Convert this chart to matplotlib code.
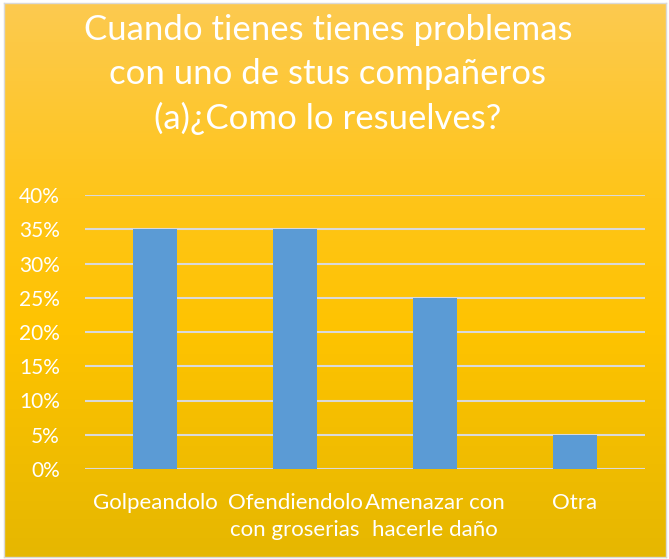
import numpy as np
import matplotlib.pyplot as plt
from matplotlib.colors import LinearSegmentedColormap

categories = ['Golpeandolo', 'Ofendiendolo\ncon groserias', 'Amenazar con\nhacerle daño', 'Otra']
values = [0.35, 0.35, 0.25, 0.05]
yticks = [0, 0.05, 0.10, 0.15, 0.20, 0.25, 0.30, 0.35, 0.40]
ylabels = ['0%', '5%', '10%', '15%', '20%', '25%', '30%', '35%', '40%']
title = 'Cuando tienes tienes problemas\ncon uno de stus compañeros\n(a)¿Como lo resuelves?'

plt.rcParams['font.family'] = ['Lato', 'DejaVu Sans']

fig = plt.figure(figsize=(6.69, 5.59), dpi=100)
fig.patch.set_facecolor('white')

# gradient background
bg = fig.add_axes([0.006, 0.004, 0.99, 0.99])
cmap = LinearSegmentedColormap.from_list('gold', [(0, '#FCCA50'), (0.35, '#FFC519'),
                                                  (0.6, '#FEC300'), (1, '#E6B700')])
bg.imshow(np.linspace(0, 1, 256).reshape(-1, 1), aspect='auto', cmap=cmap, extent=[0, 1, 0, 1])
bg.set_xticks([])
bg.set_yticks([])
for s in bg.spines.values():
    s.set_color('#D9D9D9')
    s.set_linewidth(1)

ax = fig.add_axes([85 / 669, 1 - 469 / 559, 560 / 669, 274 / 559])
ax.patch.set_alpha(0)
x = np.arange(len(categories))
ax.bar(x, values, width=0.315, color='#5B9BD5', zorder=3)
ax.set_xlim(-0.5, len(categories) - 0.5)
ax.set_ylim(0, 0.40)
ax.set_yticks(yticks)
ax.set_yticklabels(ylabels, color='white', fontsize=15)
ax.set_xticks(x)
ax.set_xticklabels(categories, color='white', fontsize=16, linespacing=1.45)
ax.tick_params(axis='x', length=0, pad=17)
ax.tick_params(axis='y', length=0, pad=18)
ax.grid(axis='y', color='#D9D9D9', linewidth=1.5, zorder=0)
for s in ax.spines.values():
    s.set_visible(False)

fig.text(0.49, 0.975, title, color='white', fontsize=25, ha='center', va='top', linespacing=1.45)

fig.savefig('out.png', dpi=100)
